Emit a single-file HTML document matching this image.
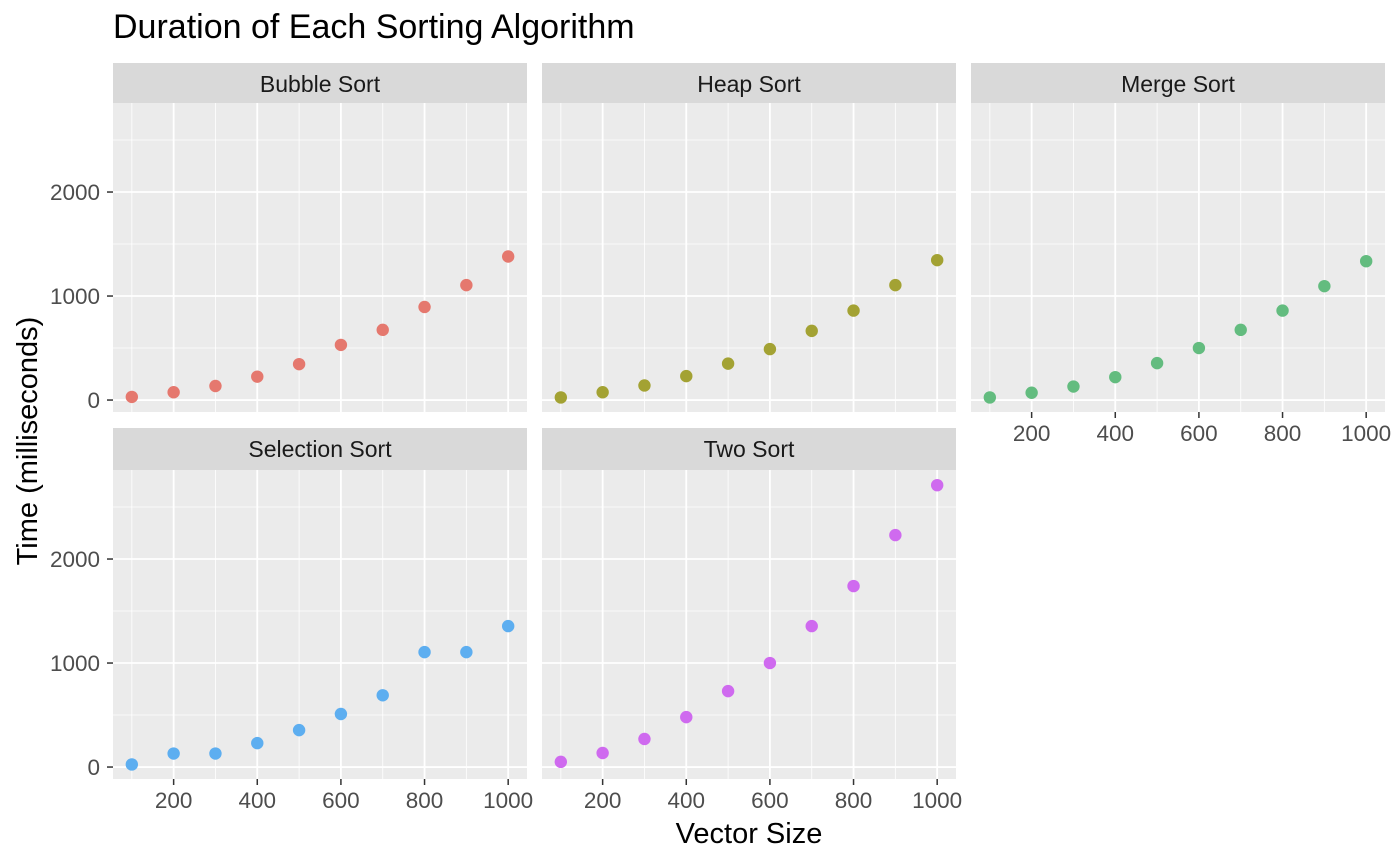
<!DOCTYPE html>
<html><head><meta charset="utf-8"><style>
body{margin:0;background:#fff;}
svg text{font-family:"Liberation Sans",Arial,sans-serif;}
</style></head><body>
<svg id="c" width="1396" height="862" xmlns="http://www.w3.org/2000/svg">
<text x="113" y="38" font-size="34" fill="#000">Duration of Each Sorting Algorithm</text>
<text transform="translate(37,441) rotate(-90)" text-anchor="middle" font-size="29" fill="#000">Time (milliseconds)</text>
<text x="749" y="843" text-anchor="middle" font-size="29" fill="#000">Vector Size</text>
</svg>
<script>
const sizes=[100,200,300,400,500,600,700,800,900,1000];
const panelNames=["Bubble Sort","Heap Sort","Merge Sort","Selection Sort","Two Sort"];
const bubble=[30,75,135,225,345,530,675,895,1105,1380];
const heap=[25,75,140,230,350,490,665,860,1105,1345];
const merge=[25,70,130,220,355,500,675,860,1095,1335];
const selection=[25,130,130,230,355,510,690,1105,1105,1355];
const two=[50,135,270,480,730,1000,1355,1740,2230,2710];
const xTicks=[200,400,600,800,1000];
const xMinor=[100,300,500,700,900];
const yTicks=[0,1000,2000];
const yMinor=[500,1500,2500];
const series=[bubble,heap,merge,selection,two];
const colors=["#E5786E","#A3A233","#63BC7F","#5DAEF0","#CF6AEF"];
const NS="http://www.w3.org/2000/svg";
const svg=document.getElementById('c');
function mk(t,a,p){const e=document.createElementNS(NS,t);for(const k in a)e.setAttribute(k,a[k]);(p||svg).appendChild(e);return e;}
const cols=[113,542,971],PW=414,PH=309;
const rows=[{s:63,p:103},{s:428,p:470}];
const xmin=55,xmax=1045;
const ymin=-115,ymax=2856;
series.forEach((d,i)=>{
  const c=i%3,r=Math.floor(i/3);
  const L=cols[c],T=rows[r].p;
  const sx=v=>L+(v-xmin)/(xmax-xmin)*PW;
  const sy=v=>T+PH-(v-ymin)/(ymax-ymin)*PH;
  const g=mk('g',{});
  
  
  mk('rect',{x:L,y:rows[r].s,width:PW,height:T-rows[r].s,fill:'#D9D9D9'},g);
  const st=mk('text',{x:L+PW/2,y:rows[r].s+29,'text-anchor':'middle','font-size':'23',fill:'#1A1A1A'},g);
  st.textContent=panelNames[i];
  
  
  mk('rect',{x:L,y:T,width:PW,height:PH,fill:'#EBEBEB'},g);
  xMinor.forEach(v=>mk('line',{x1:sx(v),x2:sx(v),y1:T,y2:T+PH,stroke:'#fff','stroke-width':0.8},g));
  yMinor.forEach(v=>mk('line',{x1:L,x2:L+PW,y1:sy(v),y2:sy(v),stroke:'#fff','stroke-width':0.8},g));
  xTicks.forEach(v=>mk('line',{x1:sx(v),x2:sx(v),y1:T,y2:T+PH,stroke:'#fff','stroke-width':1.8},g));
  yTicks.forEach(v=>mk('line',{x1:L,x2:L+PW,y1:sy(v),y2:sy(v),stroke:'#fff','stroke-width':1.8},g));
  if(c===0){yTicks.forEach(v=>{
    mk('line',{x1:L-6,x2:L,y1:sy(v),y2:sy(v),stroke:'#333','stroke-width':1.5},g);
    const t=mk('text',{x:L-13,y:sy(v)+8,'text-anchor':'end','font-size':'22.5',fill:'#4D4D4D'},g);t.textContent=v;
    
    
  });}
  if(r===1||i===2){xTicks.forEach(v=>{
    mk('line',{x1:sx(v),x2:sx(v),y1:T+PH,y2:T+PH+6,stroke:'#333','stroke-width':1.5},g);
    const t=mk('text',{x:sx(v),y:T+PH+29,'text-anchor':'middle','font-size':'22.5',fill:'#4D4D4D'},g);t.textContent=v;
    
    
  });}
  d.forEach((v,j)=>{
    const p=mk('circle',{cx:sx(sizes[j]),cy:sy(v),r:6.2,fill:colors[i]},g);
    
    
  });
});
</script>
</body></html>
